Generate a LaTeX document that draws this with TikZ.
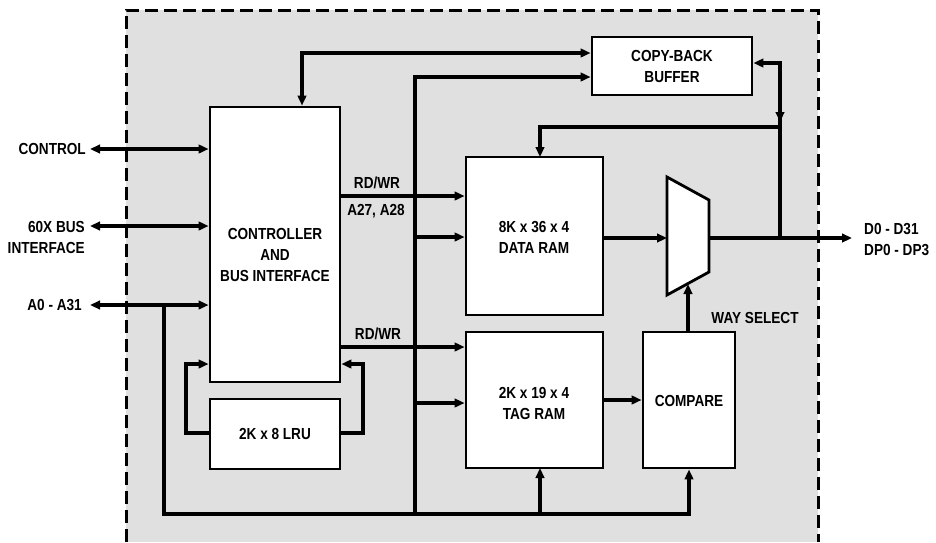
\documentclass[tikz,border=0pt]{standalone}
\usepackage{fontspec}
\newfontfamily\lblfont{Liberation Sans}[FakeStretch=0.85]
\usetikzlibrary{arrows.meta}
\tikzset{
  box/.style={draw=black, fill=white, line width=2.8pt, inner sep=0pt},
  lbl/.style={font=\lblfont\bfseries\fontsize{16}{21}\selectfont, inner sep=0pt, align=center},
  ln/.style={line width=3.2pt, line join=miter},
  arr/.style={ln, -{Triangle[length=10pt,width=8.5pt]}},
  dbl/.style={ln, {Triangle[length=10pt,width=8.5pt]}-{Triangle[length=10pt,width=8.5pt]}},
  border/.style={line width=3pt, dash pattern=on 13pt off 6pt},
}
\begin{document}
\begin{tikzpicture}[x=1pt,y=-1pt]
\useasboundingbox (0,0) rectangle (936,542);
% background and dashed border
\fill[black!12] (126,10) rectangle (818,542);
\draw[border] (126,542) -- (126,10) -- (818,10) -- (818,542);

% boxes
\node[box, minimum width=130pt, minimum height=275pt] (ctrl) at (275,244.5) {};
\node[box, minimum width=130pt, minimum height=70pt] (lru) at (275,434) {};
\node[box, minimum width=160pt, minimum height=58pt] (cb) at (672,66) {};
\node[box, minimum width=137pt, minimum height=158pt] (data) at (534.5,236) {};
\node[box, minimum width=137pt, minimum height=136pt] (tag) at (534.5,400) {};
\node[box, minimum width=92pt, minimum height=136pt] (cmp) at (689,400) {};
% multiplexer
\coordinate (muxin) at (667,238);
\coordinate (muxout) at (709,238);
\coordinate (muxbot) at (688,284);
\draw[box] (667,177) -- (709,200) -- (709,272) -- (667,295) -- cycle;

% box texts
\node[lbl] (tctrl) at (275,255) {CONTROLLER\\AND\\BUS INTERFACE};
\node[lbl] (tlru) at (275,434) {2K x 8 LRU};
\node[lbl] (tcb) at (672,66) {COPY-BACK\\BUFFER};
\node[lbl] (tdata) at (534,237) {8K x 36 x 4\\DATA RAM};
\node[lbl] (ttag) at (534,403) {2K x 19 x 4\\TAG RAM};
\node[lbl] (tcmp) at (689,401) {COMPARE};

% external labels
\node[lbl, anchor=east] (lcontrol) at (86,149) {CONTROL};
\node[lbl, anchor=east, align=right] (lbus) at (85,237) {60X BUS\\INTERFACE};
\node[lbl, anchor=east] (laddr) at (82,305) {A0 - A31};
\node[lbl, anchor=west, align=left] (ldata) at (864,239) {D0 - D31\\DP0 - DP3};
\node[lbl] (lrw1) at (377,183) {RD/WR};
\node[lbl] (la27) at (376,211) {A27, A28};
\node[lbl] (lrw2) at (378,334) {RD/WR};
\node[lbl] (lway) at (755,318) {WAY SELECT};

% coordinates for free ends and junctions
\coordinate (c1) at (90,149);
\coordinate (c2) at (90,226);
\coordinate (c3) at (90,305);
\coordinate (abj) at (164,305);
\coordinate (abl) at (164,514);
\coordinate (tagin) at (540,468);
\coordinate (vb) at (415,514);
\coordinate (vt) at (415,77);
\coordinate (vd) at (415,237);
\coordinate (vtg) at (415,403);
\coordinate (ctop) at (302,53);
\coordinate (cbr) at (780,63);
\coordinate (cbj) at (780,127);
\coordinate (cbb) at (780,238);
\coordinate (cbm1) at (780,100);
\coordinate (cbm2) at (780,122);
\coordinate (dtop) at (540,157);
\coordinate (outend) at (852,238);
\coordinate (lrl) at (186,433);
\coordinate (lrlt) at (186,364);
\coordinate (lrr) at (363,433);
\coordinate (lrrt) at (363,364);

% external bidirectional buses
\draw[dbl] (c1) -- (c1 -| ctrl.west);
\draw[dbl] (c2) -- (c2 -| ctrl.west);
\draw[dbl] (c3) -- (c3 -| ctrl.west);

% address bus to tag RAM and compare
\draw[arr] (abj) -- (abl) -| (cmp.south);
\draw[arr] (tagin |- abl) -- (tagin);

% vertical bus at x=415
\draw[arr] (vb) -- (vt) -- (vt -| cb.west);
\draw[arr] (vd) -- (vd -| data.west);
\draw[arr] (vtg) -- (vtg -| tag.west);

% RD/WR lines
\draw[arr] (ctrl.east |- 0,196) -- (data.west |- 0,196);
\draw[arr] (ctrl.east |- 0,347) -- (tag.west |- 0,347);

% controller to copy-back
\draw[dbl] (ctrl.north -| ctop) -- (ctop) -- (ctop -| cb.west);

% copy-back to data bus
\draw[arr] (cbb) -- (cbr) -- (cbr -| cb.east);
\draw[arr] (cbm1) -- (cbm2);
\draw[arr] (cbj) -| (dtop);

% data path
\draw[arr] (data.east |- muxin) -- (muxin);
\draw[arr] (muxout) -- (outend);
\draw[arr] (tag.east |- 0,400) -- (cmp.west |- 0,400);
\draw[arr] (cmp.north -| muxbot) -- (muxbot);

% LRU loops
\draw[arr] (lru.west |- lrl) -- (lrl) -- (lrlt) -- (lrlt -| ctrl.west);
\draw[arr] (lru.east |- lrr) -- (lrr) -- (lrrt) -- (lrrt -| ctrl.east);
\end{tikzpicture}
\end{document}
